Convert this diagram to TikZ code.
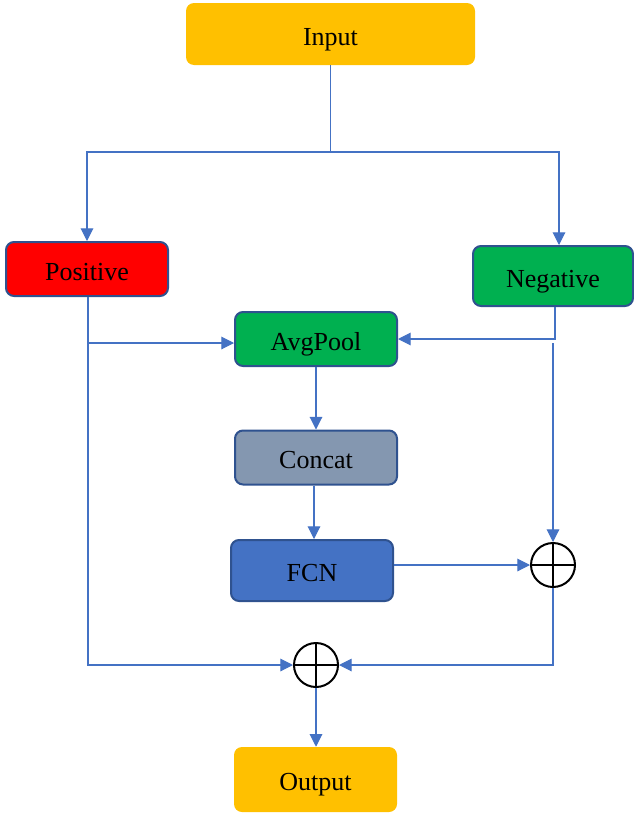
\documentclass[tikz,border=0pt]{standalone}
\usepackage{fontspec}
\setmainfont{Liberation Serif}
\usepackage{tikz}
\usetikzlibrary{arrows.meta, calc, positioning}
\definecolor{gold}{HTML}{FFC000}
\definecolor{leaf}{HTML}{00B050}
\definecolor{slate}{HTML}{8497B0}
\definecolor{azure}{HTML}{4472C4}
\definecolor{rim}{HTML}{2F528F}

\begin{document}
\begin{tikzpicture}[x=0.75pt, y=-0.75pt,
  every node/.style={align=center, font=\fontsize{19.5}{22}\selectfont},
  block/.style={rectangle, rounded corners=6pt, minimum width=121.5pt, minimum height=40.5pt, inner sep=0pt,
    text height=17pt, text depth=0pt},
  framed/.style={block, draw=rim, line width=1.5pt},
  adder/.style={circle, draw, line width=1.5pt, minimum size=33pt, inner sep=0pt,
    path picture={\draw[line width=1.5pt] (path picture bounding box.north) -- (path picture bounding box.south)
      (path picture bounding box.west) -- (path picture bounding box.east);}},
  link/.style={draw=azure, line width=0.8pt},
  flow/.style={link, -{Triangle[length=9.5pt, width=9.5pt]}, color=azure}]
\useasboundingbox (0,0) rectangle (634,814);
\node (Input) [block, fill=gold, minimum width=216.75pt, minimum height=46.5pt] at (330.5,34) {Input};
\node (Positive) [framed, fill=red] at (87,269) {Positive};
\node (Negative) [framed, fill=leaf, minimum width=120pt, minimum height=45pt] at (553,276) {Negative};
\node (AvgPool) [framed, fill=leaf] at (316,339) {AvgPool};
\node (Concat) [framed, fill=slate] at (316,457.5) {Concat};
\node (FCN) [framed, fill=azure, minimum height=45.75pt] at (312,570.5) {FCN};
\node (SumR) [adder] at (553,565) {};
\node (SumB) [adder] at (316,665) {};
\node (Output) [block, fill=gold, minimum width=122.25pt, minimum height=48.75pt] at (315.5,779.5) {Output};
\coordinate (split) at (330.5,152);
\coordinate (tapP) at (88,343);
\coordinate (tapN) at (553,343);
\draw[link] (Input.south) -- (split);
\draw[flow] (split) -| (Positive.north);
\draw[flow] (split) -| ([xshift=4.5pt]Negative.north);
\draw[flow] (tapP) -- (AvgPool.west |- tapP);
\draw[flow] ([xshift=1.5pt]Negative.south) |- (AvgPool.east);
\draw[flow] (tapN) -- (SumR.north);
\draw[flow] (AvgPool.south) -- (Concat.north);
\draw[flow] ([xshift=-1.5pt]Concat.south) -- ([xshift=-1.5pt]Concat.south |- FCN.north);
\draw[flow] (FCN.east |- SumR.west) -- (SumR.west);
\draw[flow] ([xshift=0.75pt]Positive.south) |- (SumB.west);
\draw[flow] (SumR.south) |- (SumB.east);
\draw[flow] (SumB.south) -- (SumB.south |- Output.north);
\end{tikzpicture}
\end{document}
